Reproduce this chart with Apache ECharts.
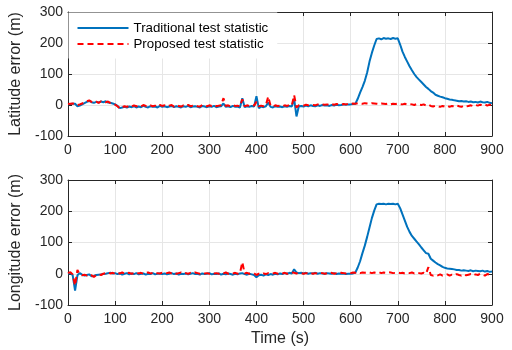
<!DOCTYPE html>
<html><head><meta charset="utf-8">
<script src="https://cdn.jsdelivr.net/npm/echarts@6/dist/echarts.min.js"></script>
<style>html,body{margin:0;padding:0;background:#fff}#c{width:512px;height:350px}</style>
</head><body><div id="c"></div>
<script>
const timeS = [
  0,5,10,15,20,25,30,35,40,45, 50,55,60,65,70,75,80,85,90,95,
  100,105,110,115,120,125,130,135,140,145, 150,155,160,165,170,175,180,185,190,195,
  200,205,210,215,220,225,230,235,240,245, 250,255,260,265,270,275,280,285,290,295,
  300,305,310,315,320,325,330,335,340,345, 350,355,360,365,370,375,380,385,390,395,
  400,405,410,415,420,425,430,435,440,445, 450,455,460,465,470,475,480,485,490,495,
  500,505,510,515,520,525,530,535,540,545, 550,555,560,565,570,575,580,585,590,595,
  600,605,610,615,620,625,630,635,640,645, 650,655,660,665,670,675,680,685,690,695,
  700,705,710,715,720,725,730,735,740,745, 750,755,760,765,770,775,780,785,790,795,
  800,805,810,815,820,825,830,835,840,845, 850,855,860,865,870,875,880,885,890,895,
  900
];
const latTraditional = [
  2,3,4,4,-4,-2,2,6,10,13, 9,7,10,8,11,9,12,8,7,5,
  2,-3,-10,-8,-6,-8,-5,-7,-4,-8, -5,-7,-3,-6,-8,-4,-6,-5,-8,-3,
  -6,-4,-7,-5,-3,-7,-4,-6,-8,-4, -6,-3,-7,-5,-4,-6,-8,-3,-5,-7,
  -4,-6,-3,-7,-5,-4,5,-6,-4,-7, -3,-6,-5,-8,22,-7,-4,-6,-3,-5,
  28,-10,-5,-7,-4,8,-6,-8,-4,-6, -5,-7,-4,-6,-3,-5,20,-37,-4,-3,
  -5,-2,-4,-1,-3,-4,-1,-3,0,-2, -1,-3,0,-2,1,-1,0,2,1,2,
  2,3,4,20,40,58,78,105,140,168, 192,213,215,212,216,214,215,213,216,214,
  215,195,172,155,140,125,112,100,90,82, 74,66,58,52,45,40,33,30,27,25,
  22,20,18,17,15,14,12,13,11,12, 10,11,9,10,8,11,9,8,10,7,
  6
];
const latProposed = [
  3,4,5,3,0,2,5,8,12,15, 10,8,11,7,12,10,9,11,6,4,
  1,-4,-11,-7,-4,-6,-2,-5,-1,-4, -2,-5,0,-3,-5,-1,-4,-2,-5,0,
  -3,-1,-4,-2,0,-5,-1,-3,-5,-1, -3,0,-4,-2,-1,-4,-5,0,-2,-4,
  -1,-3,0,-4,-2,-1,22,-3,-1,-4, 0,-3,-2,-5,18,-4,-1,-3,0,-2,
  10,-4,-2,-4,-1,27,-3,-5,-1,-3, -2,-4,-1,-3,0,-2,32,-8,-1,0,
  -2,1,-1,1,0,-1,2,0,2,1, 2,0,3,1,3,2,1,3,2,4,
  3,5,4,6,5,4,6,5,4,6, 5,4,3,5,4,3,5,2,4,3,
  5,3,2,4,1,3,2,0,3,1, 0,2,-2,1,-3,-5,-2,-4,-6,-3,
  -5,-2,-6,-3,-5,-1,-4,-6,-2,-5, -3,-1,-4,0,-2,1,-1,2,-2,1,
  -1
];
const lonTraditional = [
  0,3,-5,-54,-5,2,-3,-6,-4,-2, -8,-7,-4,-3,-2,-1,0,2,3,1,
  2,-1,1,-3,0,2,-2,1,-1,2, -2,0,1,-3,0,-1,2,-2,0,1,
  -1,1,-2,0,2,-1,1,-3,0,-1, 1,-2,0,2,-1,0,-3,1,-1,0,
  2,-2,0,-1,1,-3,0,-2,1,-1, -3,0,-2,1,2,-1,-3,0,-2,-4,
  -11,-5,-3,-6,-2,-4,-1,-3,0,-2, 1,-1,2,0,3,1,14,4,2,3,
  1,3,0,2,1,3,0,2,1,0, 2,1,0,2,-1,1,0,1,-1,0,
  0,1,4,20,40,66,90,118,148,178, 202,222,224,223,224,222,224,223,224,222,
  224,210,190,170,150,134,121,112,103,94, 84,75,66,64,48,42,36,31,27,22,
  19,17,16,15,14,12,12,10,11,10, 9,11,8,10,9,8,10,7,9,6,
  7
];
const lonProposed = [
  2,5,-2,-38,12,-2,-5,-3,-6,-2, -5,-10,-4,-2,-4,0,2,4,1,3,
  0,3,1,4,0,2,3,0,2,4, 1,3,0,2,4,1,3,0,2,1,
  3,0,2,4,1,3,0,2,4,1, 2,0,3,1,4,2,0,3,1,2,
  0,3,1,2,0,3,1,4,0,2, 1,3,0,2,37,1,3,0,2,1,
  -4,0,-2,1,-1,2,0,1,3,0, 2,1,3,0,2,4,3,1,3,2,
  0,2,1,3,0,2,1,3,2,0, 2,1,3,0,2,1,3,2,1,3,
  2,4,3,5,2,4,3,5,4,2, 4,3,5,2,4,3,5,4,2,3,
  4,2,3,1,3,2,4,1,3,2, 1,3,0,21,-4,-6,-3,-5,-2,-6,
  -4,-2,-6,-3,-5,-1,-4,-6,-2,-5, -3,-1,-5,-2,-4,0,-3,-6,-1,-3,
  -1
];
const seriesNames = ['Traditional test statistic', 'Proposed test statistic'];
const yNames = ['Latitude error (m)', 'Longitude error (m)'];
const xName = 'Time (s)';

const font = '"Liberation Sans", Arial, Helvetica, sans-serif';
const axisCol = '#262626';
const gridCol = '#e6e6e6';

function xMain(gi, name) {
  return {
    type: 'value', gridIndex: gi, min: 0, max: 900, interval: 100,
    axisLine: { show: true, onZero: false, lineStyle: { color: axisCol, width: 1 } },
    axisTick: { show: true, inside: true, length: 4, lineStyle: { color: axisCol } },
    axisLabel: { color: axisCol, fontSize: 14, fontFamily: font, margin: 7 },
    splitLine: { show: true, lineStyle: { color: gridCol, width: 1 } },
    name: name, nameLocation: 'middle', nameGap: 26,
    nameTextStyle: { color: axisCol, fontSize: 16, fontFamily: font }
  };
}
function xTop(gi) {
  return {
    type: 'value', gridIndex: gi, position: 'top', min: 0, max: 900, interval: 100,
    axisLine: { show: true, onZero: false, lineStyle: { color: axisCol, width: 1 } },
    axisTick: { show: true, inside: true, length: 4, lineStyle: { color: axisCol } },
    axisLabel: { show: false }, splitLine: { show: false }
  };
}
function yMain(gi, name) {
  return {
    type: 'value', gridIndex: gi, min: -100, max: 300, interval: 100,
    axisLine: { show: true, onZero: false, lineStyle: { color: axisCol, width: 1 } },
    axisTick: { show: true, inside: true, length: 4, lineStyle: { color: axisCol } },
    axisLabel: { color: axisCol, fontSize: 14, fontFamily: font, margin: 5 },
    splitLine: { show: true, lineStyle: { color: gridCol, width: 1 } },
    name: name, nameLocation: 'middle', nameGap: 31,
    nameTextStyle: { color: axisCol, fontSize: 16, fontFamily: font }
  };
}
function yRight(gi) {
  return {
    type: 'value', gridIndex: gi, position: 'right', min: -100, max: 300, interval: 100,
    axisLine: { show: true, onZero: false, lineStyle: { color: axisCol, width: 1 } },
    axisTick: { show: true, inside: true, length: 4, lineStyle: { color: axisCol } },
    axisLabel: { show: false }, splitLine: { show: false }
  };
}
function pairs(vals) { return timeS.map((t, i) => [t, vals[i]]); }
function blue(name, vals, xi, yi) {
  return { name: name, type: 'line', xAxisIndex: xi, yAxisIndex: yi, data: pairs(vals),
    symbol: 'none', showSymbol: false, z: 3,
    lineStyle: { color: '#0072BD', width: 2 }, itemStyle: { color: '#0072BD' } };
}
function red(name, vals, xi, yi) {
  return { name: name, type: 'line', xAxisIndex: xi, yAxisIndex: yi, data: pairs(vals),
    symbol: 'none', showSymbol: false, z: 4,
    lineStyle: { color: '#FF0000', width: 2, type: [6, 4] }, itemStyle: { color: '#FF0000' } };
}

const chart = echarts.init(document.getElementById('c'), null, { renderer: 'canvas' });
chart.setOption({
  animation: false,
  backgroundColor: '#fff',
  grid: [
    { left: 68, top: 12, width: 424, height: 124, containLabel: false },
    { left: 68, top: 180, width: 424, height: 125, containLabel: false }
  ],
  legend: {
    data: seriesNames, orient: 'vertical', left: 68.5, top: 12.5, z: 10,
    backgroundColor: '#fff', borderWidth: 0, padding: [9, 9, 8, 8],
    itemWidth: 51, itemHeight: 14, itemGap: 3,
    itemStyle: { opacity: 0 },
    textStyle: { color: '#000', fontSize: 13.3, fontFamily: font }
  },
  xAxis: [xMain(0, ''), xTop(0), xMain(1, xName), xTop(1)],
  yAxis: [yMain(0, yNames[0]), yRight(0), yMain(1, yNames[1]), yRight(1)],
  series: [
    blue(seriesNames[0], latTraditional, 0, 0),
    red(seriesNames[1], latProposed, 0, 0),
    blue(seriesNames[0], lonTraditional, 2, 2),
    red(seriesNames[1], lonProposed, 2, 2)
  ]
});
</script></body></html>
